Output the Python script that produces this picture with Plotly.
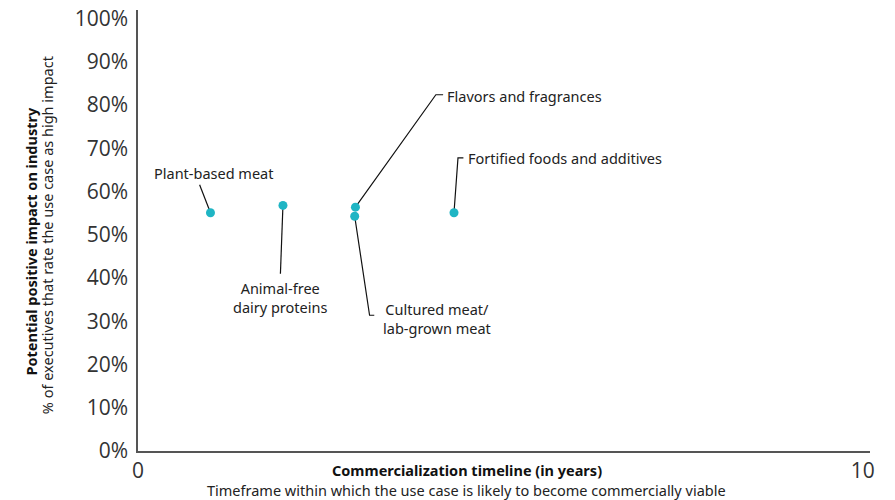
import plotly.graph_objects as go

# ===== DATA =====
use_cases = ["Plant-based meat", "Animal-free<br>dairy proteins", "Flavors and fragrances",
             "Cultured meat/<br>lab-grown meat", "Fortified foods and additives"]
timeline_years = [1.0, 2.0, 3.0, 2.99, 4.36]
impact_pct = [55.1, 56.8, 56.4, 54.3, 55.1]

y_ticks = [0, 10, 20, 30, 40, 50, 60, 70, 80, 90, 100]
y_tick_labels = [f"{v}%" for v in y_ticks]
x_ticks = [0, 10]

# label placement (data units): leader path points after the dot, text anchor, alignment
label_layout = [
    dict(path=[(0.85, 61.6)], text=(1.04, 64.4), xanchor="center", align="center"),
    dict(path=[(1.965, 41.0)], text=(1.965, 35.6), xanchor="center", align="center"),
    dict(path=[(4.11, 82.4), (4.21, 82.4)], text=(4.23, 82.0), xanchor="left", align="left"),
    dict(path=[(3.195, 31.4), (3.26, 31.4)], text=(4.12, 30.7), xanchor="center", align="center"),
    dict(path=[(4.415, 67.8), (4.49, 67.8)], text=(4.53, 67.7), xanchor="left", align="left"),
]

TEAL = "#1fb5c4"
AXIS = "#555555"
TEXT = "#333333"
LABEL_FONT = "Noto Sans"
LABEL_SIZE = 14.5

fig = go.Figure()

# leader lines first so the dots sit on top
for x0, y0, lay in zip(timeline_years, impact_pct, label_layout):
    xs = [x0] + [p[0] for p in lay["path"]]
    ys = [y0] + [p[1] for p in lay["path"]]
    fig.add_trace(go.Scatter(x=xs, y=ys, mode="lines", line=dict(color="#111111", width=1.2),
                             hoverinfo="skip", showlegend=False))

fig.add_trace(go.Scatter(
    x=timeline_years, y=impact_pct, mode="markers",
    marker=dict(color=TEAL, size=9), text=use_cases, showlegend=False,
))

for name, lay in zip(use_cases, label_layout):
    fig.add_annotation(x=lay["text"][0], y=lay["text"][1], xref="x", yref="y", text=name,
                       showarrow=False, xanchor=lay["xanchor"], yanchor="middle", align=lay["align"],
                       font=dict(family=LABEL_FONT, size=LABEL_SIZE, color="#222222"))

# axis titles
fig.add_annotation(x=0.449, y=-0.043, xref="paper", yref="paper", yanchor="middle", showarrow=False,
                   text="<b>Commercialization timeline (in years)</b>",
                   font=dict(family=LABEL_FONT, size=LABEL_SIZE, color="#111111"))
fig.add_annotation(x=0.449, y=-0.088, xref="paper", yref="paper", yanchor="middle", showarrow=False,
                   text="Timeframe within which the use case is likely to become commercially viable",
                   font=dict(family=LABEL_FONT, size=LABEL_SIZE, color="#222222"))
fig.add_annotation(x=-0.1475, y=0.475, xref="paper", yref="paper", xanchor="center", yanchor="middle",
                   showarrow=False, textangle=-90, text="<b>Potential positive impact on industry</b>",
                   font=dict(family=LABEL_FONT, size=LABEL_SIZE, color="#111111"))
fig.add_annotation(x=-0.124, y=0.49, xref="paper", yref="paper", xanchor="center", yanchor="middle",
                   showarrow=False, textangle=-90,
                   text="% of executives that rate the use case as high impact",
                   font=dict(family=LABEL_FONT, size=LABEL_SIZE, color="#222222"))

fig.update_layout(
    width=895, height=500,
    margin=dict(l=138, r=25, t=10, b=49, autoexpand=False),
    plot_bgcolor="white", paper_bgcolor="white",
    font=dict(family="Open Sans", color=TEXT),
)
fig.update_xaxes(range=[0, 10.1], tickvals=x_ticks, ticktext=[str(v) for v in x_ticks],
                 showgrid=False, zeroline=False, showline=True, linecolor=AXIS, linewidth=1.5,
                 ticks="", automargin=False, tickfont=dict(size=21, color=TEXT))
fig.update_yaxes(range=[0, 102], tickvals=y_ticks, ticktext=y_tick_labels,
                 showgrid=False, zeroline=False, showline=True, linecolor=AXIS, linewidth=1.5,
                 ticks="", automargin=False, ticklabelstandoff=4, ticklabeloverflow="allow",
                 tickfont=dict(size=21, color=TEXT))

# drop the default 8px body margin so the figure fills the window exactly
fig.write_html("out.html", config={"displayModeBar": False},
               post_script="document.body.style.margin = '0';")
